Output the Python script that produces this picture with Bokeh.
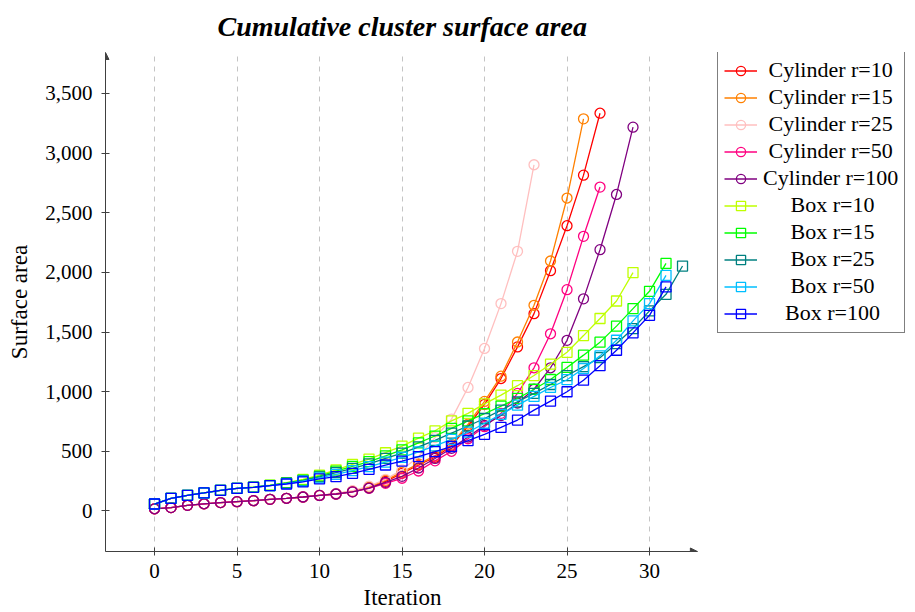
from bokeh.plotting import figure
from bokeh.models import (Range1d, FixedTicker, NumeralTickFormatter, Legend,
                          LegendItem, Arrow, NormalHead, Title)
from bokeh.embed import file_html
from bokeh.resources import INLINE

TITLE = "Cumulative cluster surface area"
X_LABEL = "Iteration"
Y_LABEL = "Surface area"
X_TICKS = [0, 5, 10, 15, 20, 25, 30]
Y_TICKS = [0, 500, 1000, 1500, 2000, 2500, 3000, 3500]
X_AXIS = (-2.97, 32.9)          # extent of the drawn x axis
X_VIEW_MAX = 46.12              # frame continues under the legend
Y_RANGE = (-340, 3843)

CYL_NAMES = ["Cylinder r=10", "Cylinder r=15", "Cylinder r=25", "Cylinder r=50", "Cylinder r=100"]
BOX_NAMES = ["Box r=10", "Box r=15", "Box r=25", "Box r=50", "Box r=100"]

cyl_r10 = [18, 28, 47, 60, 70, 78, 86, 97, 106, 117, 130, 142, 162, 195, 248,
           315, 385, 450, 545, 712, 893, 1110, 1375, 1654, 2014, 2391, 2815, 3334]
cyl_r15 = [18, 28, 47, 60, 70, 78, 86, 97, 106, 117, 131, 144, 165, 200, 258,
           325, 395, 462, 558, 728, 918, 1130, 1416, 1724, 2095, 2623, 3287]
cyl_r25 = [18, 28, 47, 60, 70, 78, 86, 97, 106, 118, 132, 146, 170, 208, 265,
           345, 455, 615, 770, 1035, 1362, 1738, 2176, 2902]
cyl_r50 = [18, 28, 47, 60, 70, 78, 86, 97, 106, 117, 130, 142, 160, 190, 232,
           274, 335, 420, 500, 605, 706, 818, 985, 1200, 1485, 1855, 2302, 2715]
cyl_r100 = [18, 28, 47, 60, 70, 78, 86, 97, 106, 117, 130, 142, 160, 192, 240,
            290, 360, 440, 525, 620, 718, 800, 905, 1020, 1200, 1430, 1778, 2190, 2653, 3217]

box_r10 = [58, 106, 131, 151, 173, 190, 200, 216, 238, 265, 300, 345, 390, 435, 488,
           544, 610, 672, 755, 818, 898, 971, 1050, 1135, 1230, 1330, 1470, 1613, 1760, 1998]
box_r15 = [58, 106, 131, 151, 173, 190, 199, 214, 235, 259, 292, 334, 373, 414, 462,
           512, 570, 628, 692, 755, 815, 879, 943, 1020, 1102, 1203, 1306, 1415, 1549, 1696,
           1841, 2075]
box_r25 = [58, 106, 131, 151, 173, 190, 198, 213, 232, 254, 285, 322, 357, 395, 440,
           485, 537, 592, 652, 712, 775, 845, 915, 985, 1060, 1135, 1210, 1285, 1403, 1529,
           1677, 1816, 2053]
box_r50 = [58, 106, 131, 151, 173, 190, 198, 212, 229, 249, 277, 306, 338, 372, 410,
           450, 495, 545, 600, 660, 735, 810, 887, 960, 1035, 1100, 1194, 1300, 1431, 1593,
           1738, 1975]
box_r100 = [58, 106, 131, 151, 173, 190, 198, 212, 226, 243, 268, 287, 315, 349, 385,
            418, 455, 497, 540, 589, 642, 700, 762, 845, 921, 999, 1096, 1218, 1347, 1493,
            1640, 1878]

CYL_SERIES = [cyl_r10, cyl_r15, cyl_r25, cyl_r50, cyl_r100]
BOX_SERIES = [box_r10, box_r15, box_r25, box_r50, box_r100]
CYL_COLORS = ["#ff0000", "#ff8000", "#ffbfbf", "#ff0080", "#800080"]
BOX_COLORS = ["#bfff00", "#00ff00", "#008080", "#00bfff", "#0000ff"]

FONT = "Liberation Serif"
AXIS_COLOR = "#404040"

p = figure(width=915, height=612,
           x_range=Range1d(X_AXIS[0], X_VIEW_MAX), y_range=Range1d(*Y_RANGE),
           output_backend="svg", toolbar_location=None,
           min_border_left=105, min_border_right=0,
           min_border_top=52, min_border_bottom=61)
p.outline_line_color = None
p.background_fill_color = "white"

# title
p.title.text = TITLE
p.title.align = "left"
p.title.offset = 112
p.title.vertical_align = "top"
p.title.text_font = FONT
p.title.text_font_style = "bold italic"
p.title.text_font_size = "28px"
p.title.text_color = "black"
p.title.standoff = 18

# grid
p.ygrid.visible = False
p.xgrid.ticker = FixedTicker(ticks=X_TICKS)
p.xgrid.grid_line_color = "#c4c4c4"
p.xgrid.grid_line_dash = "5 5"
p.xgrid.grid_line_width = 1

# axes
for ax in (p.xaxis[0], p.yaxis[0]):
    ax.axis_line_color = AXIS_COLOR
    ax.axis_line_width = 1
    ax.major_tick_line_color = AXIS_COLOR
    ax.major_tick_in = 4
    ax.major_tick_out = 4
    ax.minor_tick_line_color = None
    ax.major_label_text_font = FONT
    ax.major_label_text_font_size = "21px"
    ax.major_label_text_color = "black"
    ax.axis_label_text_font = FONT
    ax.axis_label_text_font_size = "23px"
    ax.axis_label_text_font_style = "normal"
    ax.axis_label_text_color = "black"

p.xaxis.bounds = X_AXIS
p.xaxis.ticker = FixedTicker(ticks=X_TICKS)
p.yaxis.ticker = FixedTicker(ticks=Y_TICKS)
p.yaxis.formatter = NumeralTickFormatter(format="0,0")
p.yaxis.axis_label = Y_LABEL
p.xaxis.major_label_standoff = 8
p.yaxis.major_label_standoff = 9
p.yaxis.axis_label_standoff = 10

# x axis label, centred under the drawn axis
xlab = Title(text=X_LABEL, align="left", offset=258, vertical_align="bottom",
             standoff=4, text_font=FONT, text_font_size="23px",
             text_font_style="normal", text_color="black")
p.add_layout(xlab, "below")

# arrow heads at axis ends
p.add_layout(Arrow(end=NormalHead(size=7, fill_color=AXIS_COLOR, line_color=AXIS_COLOR),
                   x_start=X_AXIS[0], y_start=Y_RANGE[0], x_end=X_AXIS[1], y_end=Y_RANGE[0],
                   line_color=AXIS_COLOR, line_width=1))
p.add_layout(Arrow(end=NormalHead(size=7, fill_color=AXIS_COLOR, line_color=AXIS_COLOR),
                   x_start=X_AXIS[0], y_start=Y_RANGE[0], x_end=X_AXIS[0], y_end=Y_RANGE[1],
                   line_color=AXIS_COLOR, line_width=1))

NBSP = "\u00a0"
PAD = {"Cylinder r=10": 1, "Cylinder r=15": 1, "Cylinder r=25": 1, "Cylinder r=50": 1,
       "Cylinder r=100": 0, "Box r=10": 5, "Box r=15": 5, "Box r=25": 5, "Box r=50": 5,
       "Box r=100": 4}

items = []
for name, ys, col in zip(CYL_NAMES, CYL_SERIES, CYL_COLORS):
    xs = list(range(len(ys)))
    lr = p.line(xs, ys, line_color=col, line_width=1.3)
    sr = p.scatter(xs, ys, marker="circle", size=10, line_color=col, line_width=1.3,
                   fill_color=None)
    items.append(LegendItem(label=NBSP * PAD[name] + name, renderers=[lr, sr]))
for name, ys, col in zip(BOX_NAMES, BOX_SERIES, BOX_COLORS):
    xs = list(range(len(ys)))
    lr = p.line(xs, ys, line_color=col, line_width=1.3)
    sr = p.scatter(xs, ys, marker="square", size=10, line_color=col, line_width=1.3,
                   fill_color=None)
    items.append(LegendItem(label=NBSP * PAD[name] + name, renderers=[lr, sr]))

legend = Legend(items=items, location=(612, 218))
legend.label_text_font = FONT
legend.label_text_font_size = "22px"
legend.label_text_color = "black"
legend.glyph_width = 33
legend.glyph_height = 23
legend.label_height = 23
legend.label_standoff = 6
legend.spacing = 1
legend.padding = 6
legend.margin = 0
legend.border_line_color = "black"
legend.border_line_width = 1
legend.background_fill_color = "white"
legend.background_fill_alpha = 1
p.add_layout(legend, "center")

open("out.html", "w").write(file_html(p, INLINE))
